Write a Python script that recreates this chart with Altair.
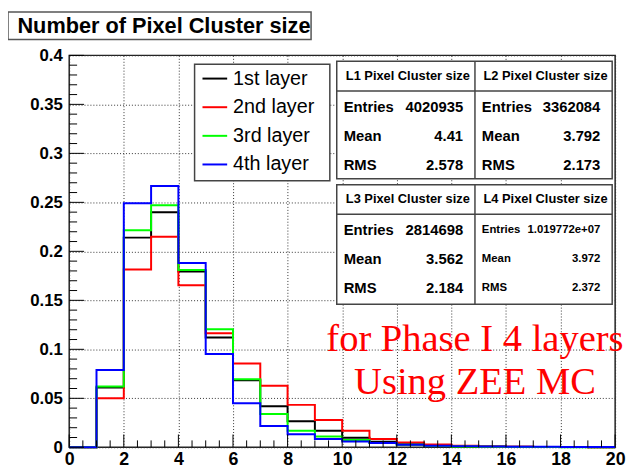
import altair as alt
import pandas as pd

# ---------------- data ----------------
edges = list(range(21))
layer_names = ["1st layer", "2nd layer", "3rd layer", "4th layer"]
layer_colors = ["#000000", "#ff0000", "#00ff00", "#0000ff"]

frac_1st = [0, 0.061, 0.214, 0.240, 0.1795, 0.112, 0.0685, 0.042, 0.0265, 0.0168,
            0.0097, 0.0057, 0.0032, 0.002, 0.0012, 0.0008, 0.0005, 0.0003, 0.0002, 0.0001]
frac_2nd = [0, 0.050, 0.1815, 0.2148, 0.1654, 0.1164, 0.0856, 0.0628, 0.0433, 0.0279,
            0.0168, 0.0084, 0.005, 0.003, 0.0016, 0.0009, 0.0005, 0.0003, 0.0002, 0.0001]
frac_3rd = [0, 0.062, 0.2215, 0.247, 0.181, 0.1205, 0.0695, 0.034, 0.0168, 0.011,
            0.0075, 0.0045, 0.0025, 0.0014, 0.0009, 0.0006, 0.0004, 0.0002, 0.0001, 0.0001]
frac_4th = [0, 0.0789, 0.249, 0.2668, 0.188, 0.0953, 0.045, 0.0218, 0.0134, 0.0084,
            0.006, 0.0044, 0.0025, 0.0017, 0.0012, 0.0008, 0.0006, 0.0005, 0.0004, 0.0003]
series = [frac_1st, frac_2nd, frac_3rd, frac_4th]

stat_titles = ["L1 Pixel Cluster size", "L2 Pixel Cluster size",
               "L3 Pixel Cluster size", "L4 Pixel Cluster size"]
stat_entries = ["4020935", "3362084", "2814698", "1.019772e+07"]
stat_mean = ["4.41", "3.792", "3.562", "3.972"]
stat_rms = ["2.578", "2.173", "2.184", "2.372"]

x_major = list(range(0, 21, 2))
x_minor = [i * 0.5 for i in range(41) if i % 4 != 0]
y_major = [round(i * 0.05, 2) for i in range(9)]
y_minor = [round(i * 0.01, 2) for i in range(41) if i % 5 != 0]

title_text = "Number of Pixel Cluster size"
note_lines = ["for Phase I 4 layers", "Using ZEE MC"]

# ---------------- table ----------------
rows = []
for name, vals in zip(layer_names, series):
    for e, v in zip(edges[:-1], vals):
        rows.append({"layer": name, "edge": e, "value": v})
    rows.append({"layer": name, "edge": edges[-1], "value": vals[-1]})
df = pd.DataFrame(rows)

W, H = 553, 397
FONT = "Liberation Sans"

xscale = alt.Scale(domain=[0, 20], nice=False, zero=False)
yscale = alt.Scale(domain=[0, 0.4], nice=False, zero=False)
xaxis = alt.Axis(values=x_major, title=None, labelFontSize=18, labelPadding=3,
                 labelFlush=False, labelOverlap=False)
yaxis = alt.Axis(values=y_major, title=None, format="~g", labelPadding=7,
                 labelFlush=False, labelOverlap=False)

lines = alt.Chart(df).mark_line(interpolate="step-after", strokeWidth=2).encode(
    x=alt.X("edge:Q", scale=xscale, axis=xaxis),
    y=alt.Y("value:Q", scale=yscale, axis=yaxis),
    color=alt.Color("layer:N",
                    scale=alt.Scale(domain=layer_names, range=layer_colors),
                    legend=alt.Legend(title=None, orient="none", legendX=134, legendY=10,
                                      symbolType="stroke", symbolSize=625,
                                      symbolStrokeWidth=2, labelFont=FONT,
                                      labelFontSize=20, labelOffset=5, rowPadding=5,
                                      padding=0, labelColor="black")),
)


def xticks(vals, length):
    return alt.Chart(pd.DataFrame({"edge": vals})).mark_rule(color="black", strokeWidth=1).encode(
        x=alt.X("edge:Q", scale=xscale, axis=xaxis), y=alt.value(H), y2=alt.value(H - length))


def yticks(vals, length):
    return alt.Chart(pd.DataFrame({"value": vals})).mark_rule(color="black", strokeWidth=1).encode(
        y=alt.Y("value:Q", scale=yscale, axis=yaxis), x=alt.value(0), x2=alt.value(length))


one = pd.DataFrame({"a": [0]})


def box(x1, x2, y1, y2, stroke="#444", sw=1.5):
    return alt.Chart(one).mark_rect(fill="white", stroke=stroke, strokeWidth=sw).encode(
        x=alt.value(x1), x2=alt.value(x2), y=alt.value(y1), y2=alt.value(y2))


def hline(x1, x2, y):
    return alt.Chart(one).mark_rule(color="#444", strokeWidth=1.5).encode(
        x=alt.value(x1), x2=alt.value(x2), y=alt.value(y))


def vline(x, y1, y2):
    return alt.Chart(one).mark_rule(color="#444", strokeWidth=1.5).encode(
        x=alt.value(x), y=alt.value(y1), y2=alt.value(y2))


def txt(s, x, y, size, align="left", weight="bold", font=FONT, color="black"):
    return alt.Chart(pd.DataFrame({"t": [s]})).mark_text(
        align=align, baseline="middle", fontSize=size, fontWeight=weight,
        font=font, color=color).encode(x=alt.value(x), y=alt.value(y), text="t:N")


layers = [lines,
          xticks(x_major, 13), xticks(x_minor, 7),
          yticks(y_major, 15), yticks(y_minor, 8)]

# title box
layers += [box(-62, 245, -44, -16, stroke="#555"),
           txt(title_text, 96, -30, 22, align="center")]

# legend box
layers += [box(127, 264, 9, 127)]

# stat boxes
boxes_y = [(6, 36, 125), (131, 161, 252)]
for row, (y1, ysep, y2) in enumerate(boxes_y):
    layers += [box(271, 550, y1, y2), hline(271, 550, ysep), vline(411, y1, y2)]
    for col in range(2):
        k = row * 2 + col
        xl, xr = (271, 411) if col == 0 else (411, 550)
        size = 15 if k < 3 else 11.5
        layers.append(txt(stat_titles[k], (xl + xr) / 2 + 2, (y1 + ysep) / 2, 13, align="center"))
        for j, (lab, val) in enumerate([("Entries", stat_entries[k]),
                                        ("Mean", stat_mean[k]),
                                        ("RMS", stat_rms[k])]):
            yy = ysep + 16 + j * 29.5
            layers.append(txt(lab, xl + 7, yy, size))
            layers.append(txt(val, xr - 12, yy, size, align="right"))

# red note
layers += [txt(note_lines[0], 411, 287, 39, align="center", weight="normal",
               font="Liberation Serif", color="#ff0000"),
           txt(note_lines[1], 411, 331, 39, align="center", weight="normal",
               font="Liberation Serif", color="#ff0000")]

chart = alt.layer(*layers).properties(
    width=W, height=H,
    padding={"left": 62, "top": 45, "right": 11, "bottom": 20},
    autosize=alt.AutoSizeParams(type="none"),
).configure_view(stroke="#222", strokeWidth=1.5).configure_axis(
    grid=True, gridColor="#333", gridDash=[1, 2], gridWidth=1,
    domain=False, ticks=False, labelFont=FONT, labelFontWeight="bold",
    labelFontSize=17, labelColor="black",
)

chart.save("out.html", embed_options={"renderer": "svg", "actions": False})
